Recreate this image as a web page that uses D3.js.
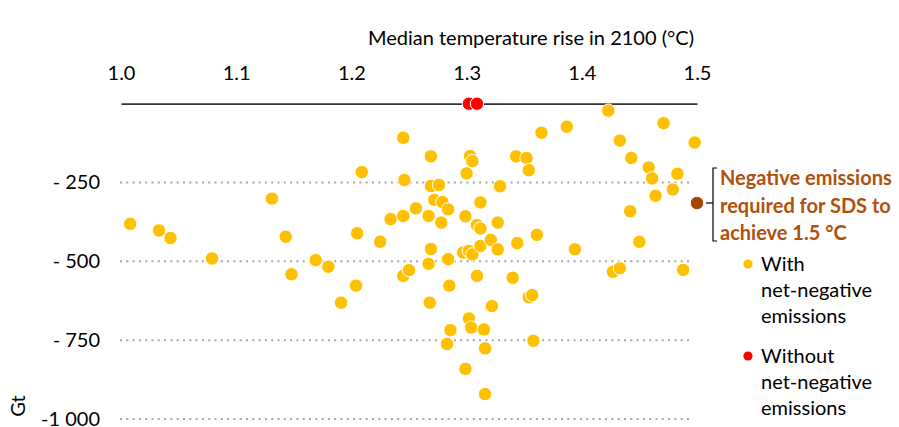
<!DOCTYPE html>
<html>
<head>
<meta charset="utf-8">
<script src="https://cdn.jsdelivr.net/npm/d3@7"></script>
<style>
  html, body { margin: 0; padding: 0; background: #fff; }
  svg { display: block; font-family: Lato, "Open Sans", sans-serif; }
</style>
</head>
<body>
<svg id="chart" width="899" height="427"></svg>
<script>
// Scenarios with net-negative emissions: median warming in 2100 (°C) and cumulative net-negative CO2 (Gt)
const withTemp = [
  1.008, 1.033, 1.043, 1.079, 1.131, 1.143, 1.148, 1.169, 1.180, 1.191,
  1.204, 1.205, 1.209, 1.225, 1.234, 1.245, 1.245, 1.245, 1.246, 1.250,
  1.256, 1.267, 1.267, 1.268, 1.269, 1.269, 1.269, 1.272, 1.276, 1.278,
  1.279, 1.284, 1.284, 1.285, 1.286, 1.283, 1.297, 1.299, 1.300, 1.299,
  1.302, 1.302, 1.303, 1.304, 1.305, 1.305, 1.309, 1.309, 1.312, 1.312,
  1.312, 1.315, 1.316, 1.316, 1.321, 1.322, 1.327, 1.327, 1.329, 1.340,
  1.343, 1.344, 1.352, 1.354, 1.354, 1.357, 1.358, 1.361, 1.365, 1.387,
  1.394, 1.423, 1.427, 1.433, 1.433, 1.442, 1.443, 1.450, 1.458, 1.461,
  1.464, 1.471, 1.479, 1.483, 1.488, 1.498
];
const withEmissions = [
  -381, -402, -426, -491, -301, -422, -541, -496, -517, -631,
  -577, -411, -217, -438, -366, -108, -356, -546, -242, -528,
  -332, -356, -508, -631, -167, -261, -461, -305, -258, -377,
  -312, -335, -493, -577, -718, -762, -472, -357, -221, -841,
  -467, -681, -166, -710, -182, -478, -385, -546, -313, -396,
  -451, -716, -776, -921, -432, -642, -377, -462, -262, -552,
  -167, -442, -172, -211, -614, -607, -752, -416, -92, -73,
  -462, -22, -533, -117, -522, -341, -172, -438, -202, -237,
  -292, -62, -272, -222, -527, -123
];
// Scenarios without net-negative emissions
const withoutTemp = [1.302, 1.309];
const withoutEmissions = [0, 0];
// Sustainable Development Scenario requirement
const sdsTemp = [1.5];
const sdsEmissions = [-315];

const xTicks = [1.0, 1.1, 1.2, 1.3, 1.4, 1.5];
const yTicks = [-250, -500, -750, -1000];
const yTickLabels = ["- 250", "- 500", "- 750", "-1 000"];

const colors = { with: "#FFC000", without: "#FF0000", sds: "#A94400", sdsText: "#B0500E" };
const fontSize = "20px";

const svg = d3.select("#chart");

const x = d3.scaleLinear().domain([1.0, 1.5]).range([121, 697]);
const y = d3.scaleLinear().domain([-1000, 0]).range([419, 103.7]);

// Horizontal dotted gridlines
svg.append("g")
  .selectAll("line")
  .data(yTicks)
  .join("line")
  .attr("x1", x(1.0) - 1)
  .attr("x2", x(1.5) - 5)
  .attr("y1", d => y(d))
  .attr("y2", d => y(d))
  .attr("stroke", "#A6A6A6")
  .attr("stroke-width", 2)
  .attr("stroke-dasharray", "2 4.3");

// Temperature axis along the zero line
const xAxis = d3.axisTop(x)
  .tickValues(xTicks)
  .tickFormat(d3.format(".1f"))
  .tickSize(0)
  .tickPadding(24);

const gx = svg.append("g")
  .attr("transform", `translate(0,${y(0)})`)
  .call(xAxis);
gx.select(".domain").attr("stroke", "#333").attr("stroke-width", 1.8);
gx.selectAll("text")
  .attr("fill", "#000")
  .style("font-size", fontSize)
  .style("font-family", "Lato, 'Open Sans', sans-serif");

svg.append("text")
  .attr("x", 694)
  .attr("y", 45)
  .attr("text-anchor", "end")
  .style("font-size", fontSize)
  .attr("fill", "#000")
  .text("Median temperature rise in 2100 (°C)");

// Emissions axis labels
const yAxis = d3.axisLeft(y)
  .tickValues(yTicks)
  .tickFormat((d, i) => yTickLabels[i])
  .tickSize(0)
  .tickPadding(21);

const gy = svg.append("g")
  .attr("transform", `translate(${x(1.0)},0)`)
  .call(yAxis);
gy.select(".domain").remove();
gy.selectAll("text")
  .attr("fill", "#000")
  .attr("dy", "0.3em")
  .style("font-size", fontSize)
  .style("font-family", "Lato, 'Open Sans', sans-serif");

svg.append("text")
  .attr("transform", "translate(25,406) rotate(-90)")
  .attr("text-anchor", "middle")
  .style("font-size", fontSize)
  .attr("fill", "#000")
  .text("Gt");

// Scenario points
function drawPoints(temps, vals, fill) {
  svg.append("g")
    .selectAll("circle")
    .data(temps.map((t, i) => ({ t, v: vals[i] })))
    .join("circle")
    .attr("cx", d => x(d.t))
    .attr("cy", d => y(d.v))
    .attr("r", 6.7)
    .attr("fill", fill)
    .attr("stroke", "#fff")
    .attr("stroke-width", 1);
}
drawPoints(withTemp, withEmissions, colors.with);
drawPoints(withoutTemp, withoutEmissions, colors.without);
drawPoints(sdsTemp, sdsEmissions, colors.sds);

// SDS annotation with bracket
const sy = y(sdsEmissions[0]);
const bracket = svg.append("g").attr("stroke", "#000").attr("stroke-width", 1.2).attr("fill", "none");
bracket.append("path").attr("d", `M717,168 H713 V241 H717`);
bracket.append("line").attr("x1", 706).attr("x2", 713).attr("y1", sy).attr("y2", sy);

const sdsLines = ["Negative emissions", "required for SDS to", "achieve 1.5 °C"];
svg.append("g")
  .selectAll("text")
  .data(sdsLines)
  .join("text")
  .attr("x", 720)
  .attr("y", (d, i) => 185 + i * 27.5)
  .attr("fill", colors.sdsText)
  .style("font-size", fontSize)
  .style("font-weight", "bold")
  .text(d => d);

// Legend
const legendItems = [
  { color: colors.with, lines: ["With", "net-negative", "emissions"], top: 264 },
  { color: colors.without, lines: ["Without", "net-negative", "emissions"], top: 356 }
];
const lg = svg.append("g");
legendItems.forEach(item => {
  lg.append("circle")
    .attr("cx", 748)
    .attr("cy", item.top)
    .attr("r", 4.6)
    .attr("fill", item.color);
  lg.append("g")
    .selectAll("text")
    .data(item.lines)
    .join("text")
    .attr("x", 761)
    .attr("y", (d, i) => item.top + 7 + i * 25.8)
    .style("font-size", fontSize)
    .attr("fill", "#000")
    .text(d => d);
});
</script>
</body>
</html>
